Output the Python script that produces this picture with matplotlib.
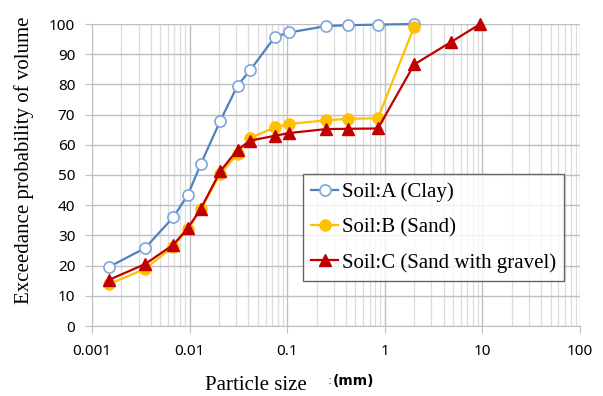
import matplotlib
matplotlib.use("Agg")
import matplotlib.pyplot as plt
from matplotlib.ticker import LogLocator, NullFormatter, FixedLocator, FixedFormatter

# particle size (mm) and exceedance probability (%)
size_a = [0.0015, 0.0035, 0.0068, 0.0096, 0.013, 0.0206, 0.031, 0.042, 0.075, 0.105, 0.25, 0.42, 0.85, 2.0]
pct_a = [19.6, 25.8, 36.0, 43.4, 53.6, 67.9, 79.6, 84.8, 95.8, 97.2, 99.3, 99.6, 99.8, 100.0]

size_b = [0.0015, 0.0035, 0.0068, 0.0096, 0.013, 0.0206, 0.031, 0.042, 0.075, 0.105, 0.25, 0.42, 0.85, 2.0]
pct_b = [13.9, 18.9, 26.3, 32.1, 38.6, 50.4, 57.1, 62.3, 65.8, 66.9, 68.1, 68.6, 68.8, 99.1]

size_c = [0.0015, 0.0035, 0.0068, 0.0096, 0.013, 0.0206, 0.031, 0.042, 0.075, 0.105, 0.25, 0.42, 0.85, 2.0, 4.75, 9.5]
pct_c = [15.3, 20.5, 26.9, 32.4, 38.8, 51.2, 58.4, 61.4, 63.0, 63.9, 65.2, 65.3, 65.4, 86.6, 94.0, 100.0]

labels = ["Soil:A (Clay)", "Soil:B (Sand)", "Soil:C (Sand with gravel)"]
xticks = [0.001, 0.01, 0.1, 1, 10, 100]
xticklabels = ["0.001", "0.01", "0.1", "1", "10", "100"]
yticks = list(range(0, 101, 10))

fig = plt.figure(figsize=(6.03, 3.96), dpi=100)
ax = fig.add_axes([92 / 603, 1 - 326 / 396, 488 / 603, 302 / 396])

ax.plot(size_a, pct_a, color="#4f81bd", lw=1.6, marker="o", ms=8,
        mfc="white", mec="#7da7d9", mew=1.2, label=labels[0], clip_on=False, zorder=3)
ax.plot(size_b, pct_b, color="#ffc000", lw=1.6, marker="o", ms=8,
        mfc="#ffc000", mec="#ffc000", label=labels[1], clip_on=False, zorder=3)
ax.plot(size_c, pct_c, color="#c00000", lw=1.6, marker="^", ms=9,
        mfc="#c00000", mec="#c00000", label=labels[2], clip_on=False, zorder=4)

ax.set_xscale("log")
ax.set_xlim(0.001, 100)
ax.set_ylim(0, 100)
ax.xaxis.set_major_locator(FixedLocator(xticks))
ax.xaxis.set_major_formatter(FixedFormatter(xticklabels))
ax.xaxis.set_minor_locator(LogLocator(base=10, subs=range(2, 10), numticks=20))
ax.xaxis.set_minor_formatter(NullFormatter())
ax.set_yticks(yticks)

ax.grid(which="major", color="#bfbfbf", lw=1.0)
ax.grid(which="minor", axis="x", color="#dcdcdc", lw=0.9)
ax.set_axisbelow(True)
for s in ["top", "right"]:
    ax.spines[s].set_visible(False)
for s in ["left", "bottom"]:
    ax.spines[s].set_color("#bfbfbf")

ax.tick_params(which="major", direction="out", length=5, color="#bfbfbf", pad=7)
ax.tick_params(which="minor", length=0)
for t in ax.get_xticklabels() + ax.get_yticklabels():
    t.set_fontfamily("Noto Sans")
    t.set_fontsize(11)
ax.tick_params(axis="x", pad=8)

fig.text(24 / 603, 1 - 160 / 396, "Exceedance probability of volume", rotation=90,
         ha="center", va="center", family="Liberation Serif", fontsize=15)
fig.text(256 / 603, 1 - 385 / 396, "Particle size", ha="center", va="center",
         family="Liberation Serif", fontsize=15)
fig.text(330 / 603, 1 - 381 / 396, ":", ha="center", va="center",
         family="DejaVu Sans", fontsize=9, color="#555555")
fig.text(333 / 603, 1 - 381 / 396, "(mm)", ha="left", va="center",
         family="DejaVu Sans", fontsize=10, weight="bold")

leg = ax.legend(loc="upper left", bbox_to_anchor=(303 / 603, 1 - 174 / 396),
                bbox_transform=fig.transFigure, prop={"family": "Liberation Serif", "size": 15},
                frameon=True, fancybox=False, borderpad=0.4, labelspacing=0.75,
                handlelength=1.3, handletextpad=0.15, borderaxespad=0)
leg.get_frame().set_edgecolor("#404040")
leg.get_frame().set_linewidth(1.0)

fig.savefig("out.png", dpi=100, facecolor="white")
